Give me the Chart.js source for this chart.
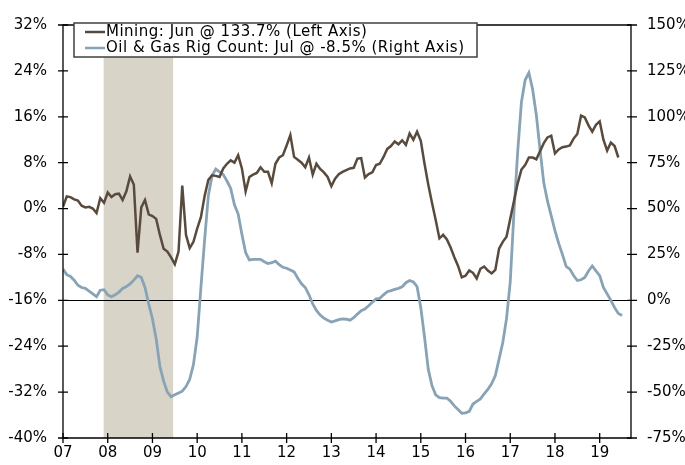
<!DOCTYPE html>
<html>
<head>
<meta charset="utf-8">
<script src="https://cdn.jsdelivr.net/npm/chart.js@4"></script>
<style>
  html, body { margin: 0; padding: 0; background: #fff; }
  #wrap { width: 685px; height: 465px; }
</style>
</head>
<body>
<div id="wrap"><canvas id="myChart"></canvas></div>
<script>
// monthly, Jan 2007 onwards (index = months since Jan 2007)
const xLabels = ['07','08','09','10','11','12','13','14','15','16','17','18','19'];
const leftTicks = [32, 24, 16, 8, 0, -8, -16, -24, -32, -40];
const rightTicks = [150, 125, 100, 75, 50, 25, 0, -25, -50, -75];
const recession = [10.9, 29.55];

// Mining, yoy % (left axis), Jan 2007 - Jun 2019
const mining = [
  0.3, 2.1, 2.0, 1.6, 1.4, 0.5, 0.2, 0.3, 0.0, -0.8, 1.8, 1.0,
  2.8, 2.0, 2.5, 2.6, 1.5, 3.0, 5.6, 4.2, -7.7, 0.2, 1.5, -1.0,
  -1.3, -1.8, -4.6, -7.0, -7.5, -8.5, -9.7, -7.5, 4.0, -4.6, -6.9, -5.8,
  -3.5, -1.5, 2.2, 5.0, 5.8, 5.7, 5.5, 7.0, 7.8, 8.4, 8.0, 9.3,
  7.0, 3.0, 5.5, 5.9, 6.2, 7.2, 6.4, 6.4, 4.4, 7.8, 8.9, 9.3,
  11.0, 12.8, 9.0, 8.5, 8.0, 7.2, 8.9, 5.9, 7.8, 6.9, 6.3, 5.5,
  3.9, 5.2, 6.0, 6.4, 6.7, 7.0, 7.1, 8.7, 8.8, 5.4, 6.0, 6.3,
  7.6, 7.8, 9.0, 10.4, 10.9, 11.7, 11.2, 11.9, 11.1, 13.1, 12.0, 13.4,
  11.8, 7.8, 4.2, 1.0, -2.0, -5.2, -4.6, -5.4, -6.8, -8.5, -10.0, -12.0,
  -11.7, -10.8, -11.2, -12.2, -10.5, -10.1, -10.8, -11.3, -10.7, -7.0, -5.8, -4.9,
  -1.8, 1.3, 4.4, 6.8, 7.6, 8.9, 8.9, 8.6, 10.0, 11.4, 12.4, 12.7,
  9.6, 10.3, 10.7, 10.8, 11.0, 12.2, 13.0, 16.2, 15.9, 14.5, 13.4, 14.6,
  15.2, 12.0, 10.1, 11.5, 10.9, 8.9
];

// Oil & gas rig count, yoy % (right axis), Jan 2007 - Jul 2019
const rigCount = [
  17, 14, 13, 11, 8.2, 7.0, 6.5, 5.0, 3.5, 2.0, 5.5, 5.8,
  3.0, 2.0, 3.0, 4.5, 6.5, 7.5, 9.0, 11.0, 13.4, 12.5, 7.0, -2.0,
  -10, -21, -36, -44, -50, -52.5, -51.5, -50.5, -49.5, -47, -43, -35,
  -20, 7, 33, 57, 68, 71.5, 70, 68.5, 65, 61, 52, 47,
  36, 26, 22, 22.3, 22.3, 22.3, 21, 20, 20.5, 21.3, 19.5, 18,
  17.5, 16.5, 15.5, 12, 9, 7, 3, -2, -5.5, -8, -9.7, -10.8,
  -11.8, -11.2, -10.5, -10.1, -10.3, -10.8, -9.5, -7.5, -5.7, -4.8, -3, -1,
  0.8, 1.1, 3, 4.7, 5.3, 6, 6.5, 7.4, 9.6, 10.8, 10, 7.5,
  -4, -20, -37.5, -46.5, -51.5, -53, -53.2, -53.3, -55, -57.5, -59.5, -61.5,
  -61.3, -60.5, -56.5, -55, -53.7, -51, -48.5, -45.5, -41, -32, -23, -10,
  10, 48, 81, 108, 120, 124, 115, 101, 82, 64, 54, 46,
  38, 31, 25, 18.5, 17, 13.5, 10.8, 11.2, 12.5, 16, 18.7, 16,
  13.5, 7, 3.5, 0, -4, -7.2, -8.3
];

const miningLabel = 'Mining: Jun @ 133.7% (Left Axis)';
const rigLabel = 'Oil & Gas Rig Count: Jul @ -8.5% (Right Axis)';

const FONT = 'DejaVu Sans';
const miningColor = '#594a3e';
const rigColor = '#87a3b5';

const frame = {
  id: 'frame',
  beforeDatasetsDraw(chart) {
    const ctx = chart.ctx, a = chart.chartArea, x = chart.scales.x, yr = chart.scales.y1;
    ctx.save();
    // recession shading
    ctx.fillStyle = '#d8d4c8';
    const x0 = x.getPixelForValue(recession[0]), x1 = x.getPixelForValue(recession[1]);
    ctx.fillRect(x0, a.top, x1 - x0, a.bottom - a.top);
    // zero line on right axis
    const yz = Math.round(yr.getPixelForValue(0)) + 0.5;
    ctx.strokeStyle = '#000';
    ctx.lineWidth = 1;
    ctx.beginPath(); ctx.moveTo(a.left, yz); ctx.lineTo(a.right, yz); ctx.stroke();
    ctx.restore();
  },
  afterDraw(chart) {
    const ctx = chart.ctx, a = chart.chartArea;
    const x = chart.scales.x, yl = chart.scales.y, yr = chart.scales.y1;
    ctx.save();
    ctx.strokeStyle = '#000';
    ctx.lineWidth = 1.3;
    ctx.beginPath();
    ctx.rect(a.left, a.top, a.right - a.left, a.bottom - a.top);
    ctx.stroke();
    ctx.beginPath();
    yl.ticks.forEach(t => {
      const p = yl.getPixelForValue(t.value);
      ctx.moveTo(a.left - 5, p); ctx.lineTo(a.left + 5, p);
    });
    yr.ticks.forEach(t => {
      const p = yr.getPixelForValue(t.value);
      ctx.moveTo(a.right - 4, p); ctx.lineTo(a.right + 6, p);
    });
    x.ticks.forEach(t => {
      const p = x.getPixelForValue(t.value);
      ctx.moveTo(p, a.bottom - 5); ctx.lineTo(p, a.bottom + 5);
    });
    ctx.stroke();

    // legend box
    const bx = 74, by = 23, bw = 403, bh = 34;
    ctx.fillStyle = '#fff';
    ctx.fillRect(bx, by, bw, bh);
    ctx.strokeStyle = '#404040';
    ctx.lineWidth = 1.5;
    ctx.strokeRect(bx, by, bw, bh);
    ctx.font = '15px "' + FONT + '"';
    ctx.letterSpacing = '0.5px';
    ctx.textBaseline = 'middle';
    ctx.fillStyle = '#000';
    chart.data.datasets.forEach((ds, i) => {
      const yy = by + 9 + i * 16;
      ctx.strokeStyle = ds.borderColor;
      ctx.lineWidth = 2.5;
      ctx.beginPath(); ctx.moveTo(85, yy); ctx.lineTo(105, yy); ctx.stroke();
      ctx.fillText(ds.label, 106, yy);
    });
    ctx.restore();
  }
};

new Chart(document.getElementById('myChart'), {
  type: 'line',
  data: {
    datasets: [
      {
        label: miningLabel,
        data: mining.map((v, i) => ({ x: i, y: v })),
        borderColor: miningColor,
        borderWidth: 2.5,
        pointRadius: 0,
        tension: 0,
        yAxisID: 'y'
      },
      {
        label: rigLabel,
        data: rigCount.map((v, i) => ({ x: i, y: v })),
        borderColor: rigColor,
        borderWidth: 2.8,
        pointRadius: 0,
        tension: 0,
        yAxisID: 'y1'
      }
    ]
  },
  options: {
    responsive: true,
    maintainAspectRatio: false,
    animation: false,
    layout: { padding: { top: 13, left: 0, right: 0, bottom: 0 } },
    plugins: { legend: { display: false }, tooltip: { enabled: false } },
    scales: {
      x: {
        type: 'linear',
        min: 0,
        max: 152.4,
        grid: { display: false, drawTicks: false },
        border: { display: false },
        afterBuildTicks(s) {
          s.ticks = xLabels.map((l, i) => ({ value: i * 12 }));
        },
        afterFit(s) { s.height = 27; },
        ticks: {
          autoSkip: false,
          maxRotation: 0,
          padding: 6,
          color: '#000',
          font: { family: FONT, size: 15 },
          callback: (v) => xLabels[Math.round(v / 12)]
        }
      },
      y: {
        position: 'left',
        min: -40,
        max: 32,
        grid: { display: false, drawTicks: false },
        border: { display: false },
        afterBuildTicks(s) { s.ticks = leftTicks.map(v => ({ value: v })); },
        afterFit(s) { s.width = 63; },
        ticks: {
          padding: 16,
          color: '#000',
          font: { family: FONT, size: 15 },
          callback: (v) => v + '%'
        }
      },
      y1: {
        position: 'right',
        min: -75,
        max: 150,
        grid: { display: false, drawTicks: false },
        border: { display: false },
        afterBuildTicks(s) { s.ticks = rightTicks.map(v => ({ value: v })); },
        afterFit(s) { s.width = 54; },
        ticks: {
          padding: 16,
          color: '#000',
          font: { family: FONT, size: 15 },
          callback: (v) => v + '%'
        }
      }
    }
  },
  plugins: [frame]
});
</script>
</body>
</html>
